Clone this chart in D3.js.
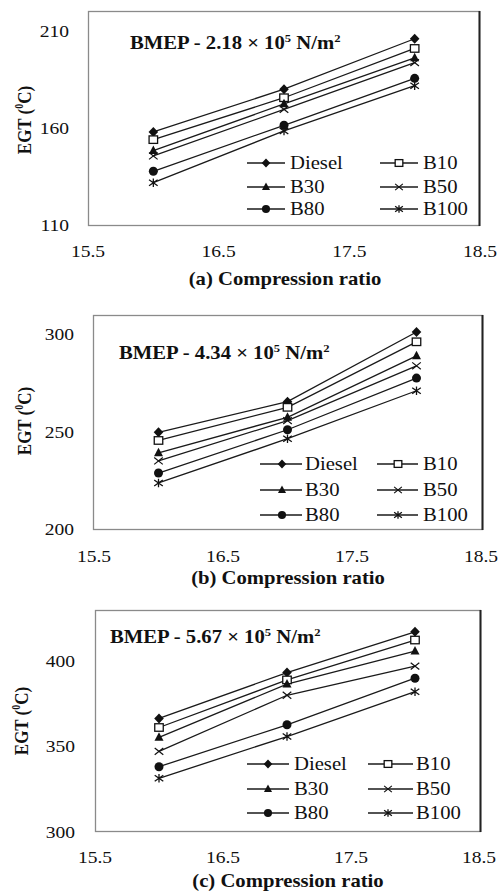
<!DOCTYPE html>
<html><head><meta charset="utf-8">
<script src="https://cdn.jsdelivr.net/npm/d3@7"></script>
<style>body{margin:0;background:#fff}svg{display:block}</style>
</head><body>
<svg id="c" width="502" height="891"></svg>
<script>
// ---------- data ----------
const compressionRatio = [16, 17, 18];
const xTicks = [15.5, 16.5, 17.5, 18.5];
const seriesNames = ["Diesel", "B10", "B30", "B50", "B80", "B100"];
const panelLetters = ["(a)", "(b)", "(c)"];
const bmepValues = ["2.18", "4.34", "5.67"];
const yTicksA = [110, 160, 210];
const yTicksB = [200, 250, 300];
const yTicksC = [300, 350, 400];
// EGT (°C), rows in seriesNames order, columns in compressionRatio order
const egtA = [
  [158.0, 180.0, 206.0],
  [154.0, 175.6, 201.0],
  [148.3, 172.4, 196.2],
  [145.6, 169.6, 193.7],
  [137.7, 161.4, 185.6],
  [131.8, 158.5, 181.8]
];
const egtB = [
  [249.6, 265.3, 301.0],
  [245.4, 262.4, 296.0],
  [239.0, 257.3, 288.8],
  [234.9, 255.6, 283.7],
  [228.7, 250.9, 277.4],
  [223.6, 246.3, 270.9]
];
const egtC = [
  [366.3, 393.2, 417.1],
  [361.0, 388.9, 412.3],
  [355.2, 386.4, 405.8],
  [347.0, 379.9, 397.0],
  [338.0, 362.6, 389.9],
  [331.2, 355.7, 382.0]
];

// ---------- layout ----------
const SX = 1.15;
const FONT = "'Liberation Serif','Times New Roman',serif";
const panels = [
  {data: egtA, ticks: yTicksA, frame: [88, 11, 479, 225], x: [88, 480], y: [225, 31],
   title: [130, 49], xlab: [285, 285], xtick: 257, ytickX: 69, ylab: [25, 120],
   leg: {rows: [163, 187, 209], c1: [247, 285, 266, 290], c2: [380, 418, 399, 423]}},
  {data: egtB, ticks: yTicksB, frame: [93, 315, 482, 529], x: [94, 481], y: [529, 334],
   title: [119, 359], xlab: [288, 584], xtick: 562, ytickX: 74, ylab: [25, 421],
   leg: {rows: [464, 490, 515], c1: [260, 302, 282, 305], c2: [377, 418, 398, 423]}},
  {data: egtC, ticks: yTicksC, frame: [95, 610, 480, 831], x: [95, 479], y: [831.5, 661],
   title: [110, 643], xlab: [288, 887], xtick: 863, ytickX: 75, ylab: [22, 721],
   leg: {rows: [764, 789, 813], c1: [247, 289, 268, 294], c2: [368, 413, 388, 416]}}
];

const svg = d3.select("#c");

function stext(parent, x, y, anchor, size, weight) {
  return parent.append("g").attr("transform", `translate(${x},${y}) scale(${SX},1)`)
    .append("text").attr("text-anchor", anchor).attr("font-family", FONT)
    .attr("font-size", size).attr("font-weight", weight || "normal").attr("fill", "#111");
}

// marker drawing
function drawMarker(g, name, x, y, s) {
  const k = s || 1;
  const stroke = "#111";
  if (name === "Diesel") {
    const w = 4.8 * k, h = 5 * k;
    g.append("path").attr("d", `M${x},${y - h}L${x + w},${y}L${x},${y + h}L${x - w},${y}Z`).attr("fill", stroke);
  } else if (name === "B10") {
    const w = 8.5 * k, h = 7.5 * k;
    g.append("rect").attr("x", x - w / 2).attr("y", y - h / 2).attr("width", w).attr("height", h)
      .attr("fill", "#fff").attr("stroke", stroke).attr("stroke-width", 1.3);
  } else if (name === "B30") {
    const w = 4.5 * k, h = 8.5 * k;
    g.append("path").attr("d", `M${x},${y - h * 0.6}L${x + w},${y + h * 0.4}L${x - w},${y + h * 0.4}Z`).attr("fill", stroke);
  } else if (name === "B50") {
    const r = 4.3 * k;
    g.append("path").attr("d", `M${x - r},${y - r * 0.8}L${x + r},${y + r * 0.8}M${x - r},${y + r * 0.8}L${x + r},${y - r * 0.8}`)
      .attr("stroke", stroke).attr("stroke-width", 1.2).attr("fill", "none");
  } else if (name === "B80") {
    g.append("circle").attr("cx", x).attr("cy", y).attr("r", 4.5 * k).attr("fill", stroke);
  } else if (name === "B100") {
    const r = 4.3 * k;
    g.append("path").attr("d", `M${x - r},${y - r * 0.7}L${x + r},${y + r * 0.7}M${x - r},${y + r * 0.7}L${x + r},${y - r * 0.7}M${x},${y - r}L${x},${y + r}`)
      .attr("stroke", stroke).attr("stroke-width", 1.3).attr("fill", "none");
  }
}

panels.forEach((p, i) => {
  const g = svg.append("g");
  const xs = d3.scaleLinear().domain([xTicks[0], xTicks[xTicks.length - 1]]).range(p.x);
  const ys = d3.scaleLinear().domain([p.ticks[0], p.ticks[p.ticks.length - 1]]).range(p.y);
  const [fx0, fy0, fx1, fy1] = p.frame;
  // frame
  g.append("rect").attr("x", fx0 + 0.5).attr("y", fy0 + 0.5).attr("width", fx1 - fx0).attr("height", fy1 - fy0)
    .attr("fill", "none").attr("stroke", "#8a8a8a").attr("stroke-width", 1.3);
  g.append("line").attr("x1", fx1 + 0.5).attr("x2", fx1 + 0.5).attr("y1", fy0).attr("y2", fy1 + 1)
    .attr("stroke", "#222").attr("stroke-width", 2);

  // x tick labels
  xTicks.forEach(t => stext(g, xs(t), p.xtick, "middle", 17).text(d3.format(".1f")(t)));
  // y tick labels
  p.ticks.forEach(t => stext(g, p.ytickX, ys(t) + 6, "end", 17).text(t));

  // lines
  const line = d3.line().x((d, j) => xs(compressionRatio[j])).y(d => ys(d));
  p.data.forEach((vals, si) => {
    g.append("path").attr("d", line(vals)).attr("fill", "none").attr("stroke", "#1a1a1a").attr("stroke-width", 1.3);
  });
  p.data.forEach((vals, si) => {
    vals.forEach((v, j) => drawMarker(g, seriesNames[si], xs(compressionRatio[j]), ys(v)));
  });

  // title
  const tt = stext(g, p.title[0], p.title[1], "start", 18, "bold");
  tt.append("tspan").text(`BMEP - ${bmepValues[i]} × 10`);
  tt.append("tspan").attr("font-size", 11).attr("dy", -7).text("5");
  tt.append("tspan").attr("dy", 7).text(" N/m");
  tt.append("tspan").attr("font-size", 11).attr("dy", -7).text("2");

  // x title
  stext(g, p.xlab[0], p.xlab[1], "middle", 18, "bold").text(`${panelLetters[i]} Compression ratio`);

  // y title (rotated)
  const yt = g.append("g").attr("transform", `translate(${p.ylab[0] + 6},${p.ylab[1]}) rotate(-90) scale(1,${SX})`)
    .append("text").attr("text-anchor", "middle").attr("font-family", FONT).attr("font-size", 17)
    .attr("font-weight", "bold").attr("fill", "#111");
  yt.append("tspan").text("EGT (");
  yt.append("tspan").attr("font-size", 10).attr("dy", -7).text("0");
  yt.append("tspan").attr("dy", 7).text("C)");

  // legend
  seriesNames.forEach((name, si) => {
    const row = p.leg.rows[Math.floor(si / 2)];
    const c = si % 2 === 0 ? p.leg.c1 : p.leg.c2;
    g.append("line").attr("x1", c[0]).attr("x2", c[1]).attr("y1", row).attr("y2", row)
      .attr("stroke", "#1a1a1a").attr("stroke-width", 1.3);
    drawMarker(g, name, c[2], row, 0.9);
    stext(g, c[3], row + 6, "start", 18).text(name);
  });
});
</script>
</body></html>
